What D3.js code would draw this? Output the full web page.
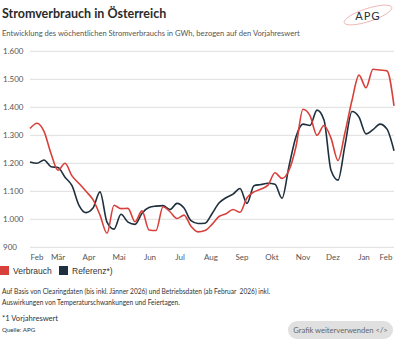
<!DOCTYPE html>
<html>
<head>
<meta charset="utf-8">
<script src="https://cdn.jsdelivr.net/npm/d3@7/dist/d3.min.js"></script>
<style>
  body { margin: 0; background: #fff; }
  svg { display: block; }
</style>
</head>
<body>
<svg id="chart" width="400" height="342"></svg>
<script>
// weekly values (GWh), first week starts 1 Feb 2025
const startDate = new Date(2025, 1, 1)
const verbrauch = [1324, 1343, 1314, 1235, 1175, 1200, 1155, 1128, 1100, 1070, 1015, 950, 1050, 1038, 1039, 991, 1030, 962, 960, 1045,
  1027, 1003, 1015, 975, 955, 960, 982, 1010, 1020, 1035, 1025, 1077, 1098, 1108, 1122, 1166, 1146, 1175, 1260, 1393,
  1370, 1300, 1335, 1290, 1210, 1310, 1425, 1515, 1470, 1536, 1533, 1530, 1405]
const referenz = [1205, 1200, 1212, 1188, 1185, 1150, 1120, 1050, 1024, 1040, 1098, 990, 965, 1018, 990, 982, 1022, 1042, 1047, 1049,
  1035, 1057, 1040, 995, 985, 986, 1020, 1058, 1077, 1090, 1110, 1057, 1120, 1124, 1129, 1125, 1075, 1190, 1295, 1340,
  1335, 1390, 1355, 1175, 1140, 1265, 1385, 1365, 1305, 1320, 1340, 1322, 1245]
const monthLabels = ["Feb", "Mär", "Apr", "Mai", "Jun", "Jul", "Aug", "Sep", "Okt", "Nov", "Dez", "Jan", "Feb"]
const yTicks = [900, 1000, 1100, 1200, 1300, 1400, 1500, 1600]

const red = "#d8413b", navy = "#1e2f3d"
const deFmt = v => d3.format(",")(v).replace(",", ".")

const svg = d3.select("#chart")
const left = 30, right = 394

const dates = verbrauch.map((d, i) => d3.timeDay.offset(startDate, i * 7))
const x = d3.scaleTime().domain([startDate, new Date(2026, 1, 1)]).range([left, 395])
const y = d3.scaleLinear().domain([900, 1600]).range([247.3, 51.3])

// title
svg.append("text").attr("x", 2).attr("y", 18).text("Stromverbrauch in Österreich")
  .attr("font-family", "Lato").attr("font-weight", 700).attr("font-size", 12.5).attr("fill", "#2b2b2b")
svg.append("text").attr("x", 2).attr("y", 36)
  .text("Entwicklung des wöchentlichen Stromverbrauchs in GWh, bezogen auf den Vorjahreswert")
  .attr("font-family", "Lato").attr("font-size", 7.6).attr("fill", "#555")

// logo
svg.append("ellipse").attr("cx", 368).attr("cy", 15).attr("rx", 25).attr("ry", 6.5)
  .attr("transform", "rotate(-18,368,15)").attr("fill", "none").attr("stroke", "#e8a0a0").attr("stroke-width", 0.7)
svg.append("text").attr("x", 368).attr("y", 20).attr("text-anchor", "middle").text("APG")
  .attr("font-family", "DejaVu Sans").attr("font-size", 11).attr("fill", "#26323c")
  .attr("letter-spacing", 1)

// grid + y labels
svg.append("g").selectAll("line").data(yTicks).join("line")
  .attr("x1", left).attr("x2", right).attr("y1", d => y(d)).attr("y2", d => y(d))
  .attr("stroke", "#dedede").attr("stroke-width", 1)
svg.append("g").selectAll("text").data(yTicks).join("text")
  .attr("x", 3).attr("y", d => y(d)).attr("dy", "0.35em").text(d => deFmt(d))
  .attr("font-family", "Lato").attr("font-size", 8).attr("fill", "#555")

// x labels (edge labels kept inside the plot)
const monthTicks = d3.timeMonth.range(startDate, new Date(2026, 1, 2))
svg.append("g").selectAll("text").data(monthTicks).join("text")
  .attr("x", (d, i) => Math.max(left + 7, Math.min(right - 8, x(d))))
  .attr("y", 260).attr("text-anchor", "middle").text((d, i) => monthLabels[i])
  .attr("font-family", "Lato").attr("font-size", 8).attr("fill", "#555")

// lines
const line = d3.line().x((d, i) => x(dates[i])).y(d => y(d)).curve(d3.curveMonotoneX)
svg.append("path").datum(referenz).attr("d", line).attr("fill", "none").attr("stroke", navy).attr("stroke-width", 1.6)
svg.append("path").datum(verbrauch).attr("d", line).attr("fill", "none").attr("stroke", red).attr("stroke-width", 1.6)

// legend
const legend = [{ name: "Verbrauch", c: red, x: 0 }, { name: "Referenz*)", c: navy, x: 59 }]
const lg = svg.append("g").selectAll("g").data(legend).join("g").attr("transform", d => `translate(${d.x},266)`)
lg.append("rect").attr("width", 9).attr("height", 9).attr("fill", d => d.c)
lg.append("text").attr("x", 13).attr("y", 8).text(d => d.name)
  .attr("font-family", "Liberation Sans").attr("font-size", 8.5).attr("fill", "#333")

// footnotes
const notes = [
  { t: "Auf Basis von Clearingdaten (bis inkl. Jänner 2026) und Betriebsdaten (ab Februar  2026) inkl.", y: 294, s: 6.6 },
  { t: "Auswirkungen von Temperaturschwankungen und Feiertagen.", y: 305, s: 6.6 },
  { t: "*1 Vorjahreswert", y: 321, s: 7.6 },
  { t: "Quelle: APG", y: 332, s: 6.2 }
]
svg.append("g").selectAll("text").data(notes).join("text")
  .attr("x", 2).attr("y", d => d.y).text(d => d.t).attr("font-size", d => d.s)
  .attr("font-family", "Lato").attr("fill", "#333").style("white-space", "pre")

// button
svg.append("rect").attr("x", 288).attr("y", 321).attr("width", 105).attr("height", 18).attr("rx", 9)
  .attr("fill", "#e0e0e0")
svg.append("text").attr("x", 340.5).attr("y", 333).attr("text-anchor", "middle").text("Grafik weiterverwenden </>")
  .attr("font-family", "Lato").attr("font-size", 7.6).attr("fill", "#666")
</script>
</body>
</html>
